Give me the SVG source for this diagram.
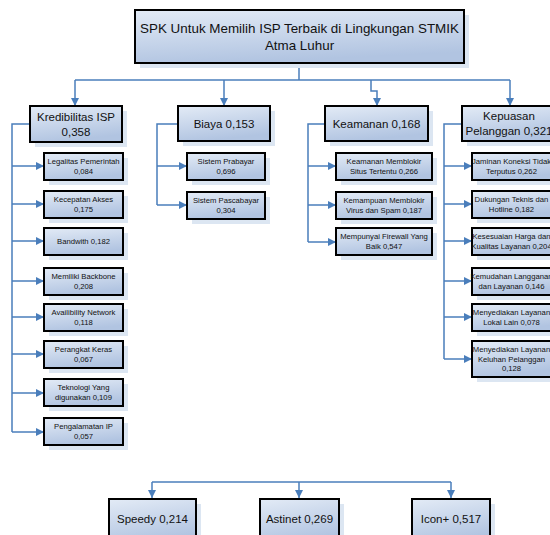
<svg xmlns="http://www.w3.org/2000/svg" width="550" height="535" viewBox="0 0 550 535">
<defs>
<linearGradient id="g" x1="0" y1="0" x2="0.3" y2="1">
<stop offset="0" stop-color="#e3ebf6"/>
<stop offset="1" stop-color="#b1c4e1"/>
</linearGradient>
<marker id="ar" viewBox="0 0 10 10" refX="10" refY="5" markerWidth="8" markerHeight="8" orient="auto" markerUnits="userSpaceOnUse">
<path d="M0,0 L10,5 L0,10 Z" fill="#4a7ebb"/>
</marker>
<style>
.sh{fill:#dce6f2}
.bx{fill:url(#g);stroke:#000;stroke-width:2}
text{font-family:"Liberation Sans",Arial,sans-serif;fill:#111;text-anchor:middle}
.t0{font-size:13.4px}
.t1{font-size:11.5px}
.t2{font-size:7.7px}
.c{fill:none;stroke:#4a7ebb;stroke-width:1.5}
.a{marker-end:url(#ar)}
</style>
</defs>
<rect width="550" height="535" fill="#fff"/>

<g id="connectors">
<path class="c" d="M299,63 V80"/>
<path class="c" d="M75,80 H510"/>
<path class="c a" d="M75,80 V106"/>
<path class="c a" d="M224,80 V106"/>
<path class="c a" d="M371,80 V91 H377 V106"/>
<path class="c a" d="M510,80 V106"/>
<!-- Kredibilitas -->
<path class="c" d="M30,124 H12 V432"/>
<path class="c a" d="M12,166 H44"/>
<path class="c a" d="M12,204 H44"/>
<path class="c a" d="M12,241 H44"/>
<path class="c a" d="M12,281 H44"/>
<path class="c a" d="M12,317 H44"/>
<path class="c a" d="M12,354 H44"/>
<path class="c a" d="M12,393 H44"/>
<path class="c a" d="M12,432 H44"/>
<!-- Biaya -->
<path class="c" d="M178,124 H157 V205"/>
<path class="c a" d="M157,166 H187"/>
<path class="c a" d="M157,205 H187"/>
<!-- Keamanan -->
<path class="c" d="M325,124 H308 V242"/>
<path class="c a" d="M308,166 H336"/>
<path class="c a" d="M308,205 H336"/>
<path class="c a" d="M308,242 H336"/>
<!-- Kepuasan -->
<path class="c" d="M462,124 H444 V359"/>
<path class="c a" d="M444,166 H472"/>
<path class="c a" d="M444,204 H472"/>
<path class="c a" d="M444,241 H472"/>
<path class="c a" d="M444,281 H472"/>
<path class="c a" d="M444,317 H472"/>
<path class="c a" d="M444,359 H472"/>
<!-- bottom -->
<path class="c" d="M152,482 H451"/>
<path class="c a" d="M152,482 V498"/>
<path class="c a" d="M299,482 V498"/>
<path class="c a" d="M451,482 V498"/>
</g>

<g id="root">
<rect class="sh" x="140" y="15" width="329" height="53"/>
<rect class="bx" x="135" y="10" width="329" height="53"/>
<text class="t0" x="299.5" y="33">SPK Untuk Memilih ISP Terbaik di Lingkungan STMIK</text>
<text class="t0" x="299.5" y="50">Atma Luhur</text>
</g>

<g id="kredibilitas">
<rect class="sh" x="35" y="111" width="92" height="36"/>
<rect class="bx" x="30" y="106" width="92" height="36"/>
<text class="t1" x="76" y="121">Kredibilitas ISP</text>
<text class="t1" x="76" y="136">0,358</text>
</g>
<g id="biaya">
<rect class="sh" x="183" y="111" width="92" height="35"/>
<rect class="bx" x="178" y="106" width="92" height="35"/>
<text class="t1" x="224" y="128">Biaya 0,153</text>
</g>
<g id="keamanan">
<rect class="sh" x="330" y="111" width="103" height="35"/>
<rect class="bx" x="325" y="106" width="103" height="35"/>
<text class="t1" x="376.5" y="128">Keamanan 0,168</text>
</g>
<g id="kepuasan">
<rect class="sh" x="467" y="111" width="94" height="35"/>
<rect class="bx" x="462" y="106" width="94" height="35"/>
<text class="t1" x="509" y="120">Kepuasan</text>
<text class="t1" x="509" y="135">Pelanggan 0,321</text>
</g>

<g id="legalitas">
<rect class="sh" x="49" y="158" width="79" height="27"/>
<rect class="bx" x="44" y="153" width="79" height="27"/>
<text class="t2" x="83.5" y="164">Legalitas Pemerintah</text>
<text class="t2" x="83.5" y="173.5">0,084</text>
</g>
<g id="kecepatan">
<rect class="sh" x="49" y="196" width="79" height="27"/>
<rect class="bx" x="44" y="191" width="79" height="27"/>
<text class="t2" x="83.5" y="202">Kecepatan Akses</text>
<text class="t2" x="83.5" y="211.5">0,175</text>
</g>
<g id="bandwith">
<rect class="sh" x="49" y="233" width="79" height="27"/>
<rect class="bx" x="44" y="228" width="79" height="27"/>
<text class="t2" x="83.5" y="244">Bandwith 0,182</text>
</g>
<g id="backbone">
<rect class="sh" x="49" y="273" width="79" height="27"/>
<rect class="bx" x="44" y="268" width="79" height="27"/>
<text class="t2" x="83.5" y="279">Memiliki Backbone</text>
<text class="t2" x="83.5" y="288.5">0,208</text>
</g>
<g id="availibility">
<rect class="sh" x="49" y="309" width="79" height="27"/>
<rect class="bx" x="44" y="304" width="79" height="27"/>
<text class="t2" x="83.5" y="315">Availibility Network</text>
<text class="t2" x="83.5" y="324.5">0,118</text>
</g>
<g id="perangkat">
<rect class="sh" x="49" y="346" width="79" height="27"/>
<rect class="bx" x="44" y="341" width="79" height="27"/>
<text class="t2" x="83.5" y="352">Perangkat Keras</text>
<text class="t2" x="83.5" y="361.5">0,067</text>
</g>
<g id="teknologi">
<rect class="sh" x="49" y="384" width="79" height="27"/>
<rect class="bx" x="44" y="379" width="79" height="27"/>
<text class="t2" x="83.5" y="390">Teknologi Yang</text>
<text class="t2" x="83.5" y="399.5">digunakan 0,109</text>
</g>
<g id="pengalamatan">
<rect class="sh" x="49" y="423" width="79" height="27"/>
<rect class="bx" x="44" y="418" width="79" height="27"/>
<text class="t2" x="83.5" y="429">Pengalamatan IP</text>
<text class="t2" x="83.5" y="438.5">0,057</text>
</g>

<g id="prabayar">
<rect class="sh" x="192" y="158" width="78" height="27"/>
<rect class="bx" x="187" y="153" width="78" height="27"/>
<text class="t2" x="226" y="164">Sistem Prabayar</text>
<text class="t2" x="226" y="173.5">0,696</text>
</g>
<g id="pascabayar">
<rect class="sh" x="192" y="197" width="78" height="27"/>
<rect class="bx" x="187" y="192" width="78" height="27"/>
<text class="t2" x="226" y="203">Sistem Pascabayar</text>
<text class="t2" x="226" y="212.5">0,304</text>
</g>

<g id="blokir-situs">
<rect class="sh" x="341" y="158" width="96" height="27"/>
<rect class="bx" x="336" y="153" width="96" height="27"/>
<text class="t2" x="384" y="164">Keamanan Memblokir</text>
<text class="t2" x="384" y="173.5">Situs Tertentu 0,266</text>
</g>
<g id="blokir-virus">
<rect class="sh" x="341" y="197" width="96" height="27"/>
<rect class="bx" x="336" y="192" width="96" height="27"/>
<text class="t2" x="384" y="203">Kemampuan Memblokir</text>
<text class="t2" x="384" y="212.5">Virus dan Spam 0,187</text>
</g>
<g id="firewall">
<rect class="sh" x="341" y="233" width="96" height="27"/>
<rect class="bx" x="336" y="228" width="96" height="27"/>
<text class="t2" x="384" y="239">Mempunyai Firewall Yang</text>
<text class="t2" x="384" y="248.5">Baik 0,547</text>
</g>

<g id="jaminan">
<rect class="sh" x="477" y="158" width="79" height="27"/>
<rect class="bx" x="472" y="153" width="79" height="27"/>
<text class="t2" x="511.5" y="164">Jaminan Koneksi Tidak</text>
<text class="t2" x="511.5" y="173.5">Terputus 0,262</text>
</g>
<g id="dukungan">
<rect class="sh" x="477" y="196" width="79" height="27"/>
<rect class="bx" x="472" y="191" width="79" height="27"/>
<text class="t2" x="511.5" y="202">Dukungan Teknis dan</text>
<text class="t2" x="511.5" y="211.5">Hotline 0,182</text>
</g>
<g id="kesesuaian">
<rect class="sh" x="477" y="233" width="79" height="27"/>
<rect class="bx" x="472" y="228" width="79" height="27"/>
<text class="t2" x="511.5" y="239">Kesesuaian Harga dan</text>
<text class="t2" x="511.5" y="248.5">Kualitas Layanan 0,204</text>
</g>
<g id="kemudahan">
<rect class="sh" x="477" y="273" width="79" height="27"/>
<rect class="bx" x="472" y="268" width="79" height="27"/>
<text class="t2" x="511.5" y="279">Kemudahan Langganan</text>
<text class="t2" x="511.5" y="288.5">dan Layanan 0,146</text>
</g>
<g id="layanan-lokal">
<rect class="sh" x="477" y="309" width="79" height="27"/>
<rect class="bx" x="472" y="304" width="79" height="27"/>
<text class="t2" x="511.5" y="315">Menyediakan Layanan</text>
<text class="t2" x="511.5" y="324.5">Lokal Lain 0,078</text>
</g>
<g id="layanan-keluhan">
<rect class="sh" x="477" y="346" width="79" height="36"/>
<rect class="bx" x="472" y="341" width="79" height="36"/>
<text class="t2" x="511.5" y="352">Menyediakan Layanan</text>
<text class="t2" x="511.5" y="361.5">Keluhan Pelanggan</text>
<text class="t2" x="511.5" y="371">0,128</text>
</g>

<g id="speedy">
<rect class="sh" x="114" y="504" width="87" height="45"/>
<rect class="bx" x="109" y="499" width="87" height="45"/>
<text class="t1" x="152.5" y="523">Speedy 0,214</text>
</g>
<g id="astinet">
<rect class="sh" x="265" y="504" width="79" height="45"/>
<rect class="bx" x="260" y="499" width="79" height="45"/>
<text class="t1" x="299.5" y="523">Astinet 0,269</text>
</g>
<g id="icon">
<rect class="sh" x="417" y="504" width="78" height="45"/>
<rect class="bx" x="412" y="499" width="78" height="45"/>
<text class="t1" x="451" y="523">Icon+ 0,517</text>
</g>
</svg>
